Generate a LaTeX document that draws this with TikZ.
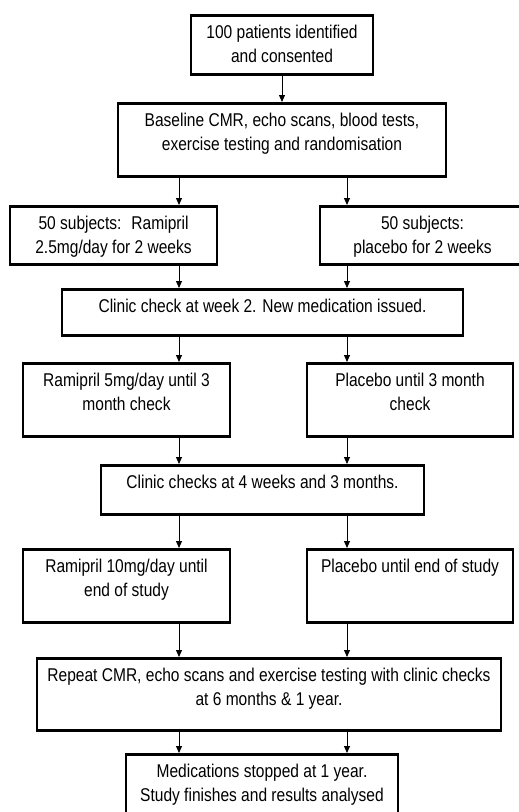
\documentclass[tikz,border=0pt]{standalone}
\usepackage{fontspec}
\setmainfont[FakeStretch=0.84]{Liberation Sans}
\usepackage{tikz}
\usetikzlibrary{shapes, arrows.meta}
\tikzstyle{stage} = [rectangle, draw, line width=2.5pt, inner sep=0pt, anchor=north]
\tikzstyle{connector} = [draw, line width=1pt, -{Triangle[length=7pt,width=6pt]}]
\newcommand{\stagetext}[3]{\parbox[t][#2pt][t]{#1pt}{\centering\rule{0pt}{23pt}#3}}

\begin{document}
\begin{tikzpicture}[x=1pt, y=-1pt, font=\fontsize{18.5}{24}\selectfont]
        \useasboundingbox (0,0) rectangle (519,812);
        \clip (0,0) rectangle (519,812);

        \node [stage] at (282,14) (start)
        {\stagetext{182}{59}{100 patients identified\\and consented}};

        \node [stage] at (282,102) (baseline)
        {\stagetext{328}{73}{Baseline CMR, echo scans, blood tests,\\exercise testing and randomisation}};

        \node [stage] at (113.5,205) (ramiA)
        {\stagetext{207}{58}{50 subjects:~ Ramipril\\2.5mg/day for 2 weeks}};

        \node [stage] at (422.5,205) (placA)
        {\stagetext{205}{58}{50 subjects:\\placebo for 2 weeks}};

        \node [stage] at (262.5,288) (checkA)
        {\stagetext{401}{46}{Clinic check at week 2. New medication issued.}};

        \node [stage] at (126.5,362) (ramiB)
        {\stagetext{207}{73}{Ramipril 5mg/day until 3\\month check}};

        \node [stage] at (410,362) (placB)
        {\stagetext{206}{73}{Placebo until 3 month\\check}};

        \node [stage] at (262.5,464) (checkB)
        {\stagetext{323}{49}{Clinic checks at 4 weeks and 3 months.}};

        \node [stage] at (126.5,548) (ramiC)
        {\stagetext{207}{73}{Ramipril 10mg/day until\\end of study}};

        \node [stage] at (410,548) (placC)
        {\stagetext{206}{73}{Placebo until end of study}};

        \node [stage] at (269,657) (repeat)
        {\stagetext{464}{72}{Repeat CMR, echo scans and exercise testing with clinic checks\\at 6 months \& 1 year.}};

        \node [stage] at (262,753) (finish)
        {\stagetext{272}{75}{Medications stopped at 1 year.\\Study finishes and results analysed}};

        \coordinate (armL) at (179,0);
        \coordinate (armR) at (347,0);

        \path [connector] (start) -- (baseline);
        \foreach \a/\b in {baseline/ramiA, ramiA/checkA, checkA/ramiB, ramiB/checkB, checkB/ramiC, ramiC/repeat, repeat/finish}
            \path [connector] (\a.south -| armL) -- (\b.north -| armL);
        \foreach \a/\b in {baseline/placA, placA/checkA, checkA/placB, placB/checkB, checkB/placC, placC/repeat, repeat/finish}
            \path [connector] (\a.south -| armR) -- (\b.north -| armR);
    \end{tikzpicture}
\end{document}
